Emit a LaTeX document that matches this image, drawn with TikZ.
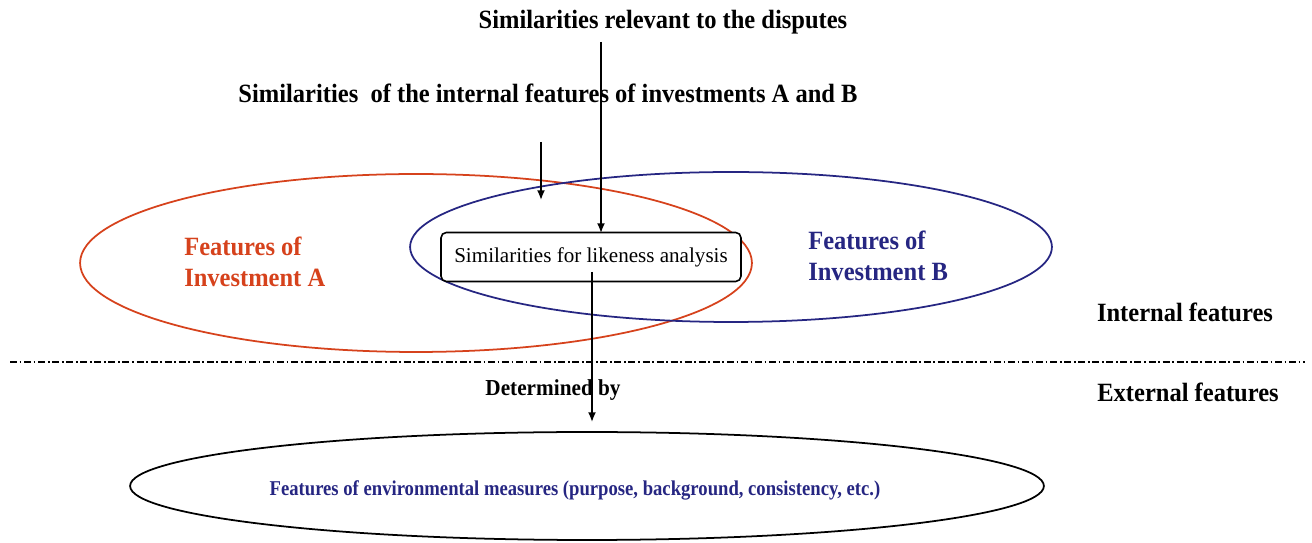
\documentclass[tikz,border=0pt]{standalone}
\usepackage{fontspec}
\setmainfont{Liberation Serif}
\usetikzlibrary{shapes.geometric,arrows.meta}
\definecolor{invred}{RGB}{214,66,28}
\definecolor{invblue}{RGB}{38,38,130}

\begin{document}
\begin{tikzpicture}[x=0.02cm,y=-0.02cm,
  lbl/.style={font=\bfseries\fontsize{15}{18}\selectfont,xscale=0.93,align=center,inner sep=0pt},
  arr/.style={-{Latex[length=5.5pt,width=4.5pt]},line width=0.9pt},
  ring/.style={ellipse,draw,line width=1pt,inner sep=0pt}]
  \useasboundingbox (0,0) rectangle (1312,543);

  % the two investments and what they share
  \node[ring,draw=invred,minimum width=13.44cm,minimum height=3.56cm] (ellA) at (416,263) {};
  \node[ring,draw=invblue,minimum width=12.84cm,minimum height=3.0cm] (ellB) at (731,247) {};
  \node[draw,line width=0.9pt,rounded corners=3pt,fill=white,
        minimum width=6cm,minimum height=0.98cm,inner sep=0pt,
        font=\fontsize{12}{14}\selectfont] (simBox) at (591,257) {Similarities for likeness analysis\hspace{8pt}};
  \node[lbl,text=invred,align=left,anchor=west] (featA) at (184,262) {Features of\\Investment A};
  \node[lbl,text=invblue,align=left,anchor=west] (featB) at (808,256) {Features of\\Investment B};

  % headings above
  \node[lbl] (topTitle) at (663,22) {Similarities relevant to the disputes};
  \node[lbl] (intTitle) at (548,93) {Similarities\ \ of the internal features of investments A and B};

  % split between inside and outside
  \draw[line width=0.6pt,dash pattern=on 4pt off 1.5pt on 1pt off 1.5pt] (10,362) -- (1305,362);
  \node[lbl] (intLbl) at (1185,312) {Internal features};
  \node[lbl] (extLbl) at (1188,392) {External features};
  \node[lbl,font=\bfseries\fontsize{13}{15}\selectfont] (detBy) at (553,390) {Determined by};

  % environmental measures
  \node[ring,minimum width=18.28cm,minimum height=2.16cm] (envEll) at (587,486) {};
  \node[lbl,text=invblue,font=\bfseries\fontsize{12}{14}\selectfont,xscale=0.885/0.93] (envTxt) at (575,490)
    {Features of environmental measures (purpose, background, consistency, etc.)};

  % arrows
  \coordinate (dispTop) at (601,42);
  \coordinate (boxTop) at (601,233);
  \coordinate (lensFrom) at (541,142);
  \coordinate (lensTo) at (541,200);
  \coordinate (boxOut) at (592,272);
  \coordinate (envTop) at (592,422);
  \draw[arr] (dispTop) -- (boxTop);
  \draw[arr] (lensFrom) -- (lensTo);
  \draw[arr] (boxOut) -- (envTop);
\end{tikzpicture}
\end{document}
